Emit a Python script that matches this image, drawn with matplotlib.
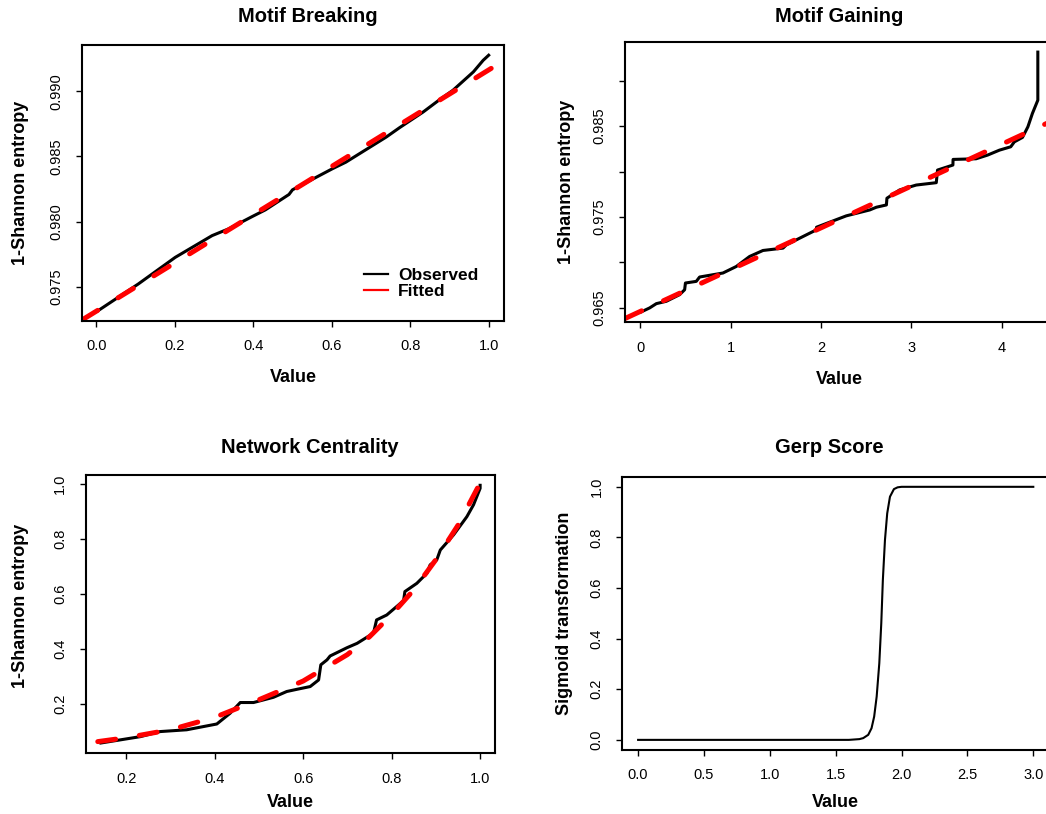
import numpy as np
import matplotlib
matplotlib.use("Agg")
import matplotlib.pyplot as plt

plt.rcParams['font.family'] = ['Liberation Sans', 'DejaVu Sans']

# Motif Breaking: observed curve and fitted straight line
mb_x = [0.004, 0.107, 0.201, 0.295, 0.337, 0.397, 0.431, 0.491, 0.500, 0.602, 0.636,
        0.739, 0.773, 0.833, 0.875, 0.909, 0.961, 0.986, 1.0]
mb_y = [0.97315, 0.97521, 0.97725, 0.97892, 0.97944, 0.98038, 0.98090, 0.98208, 0.98244,
        0.98406, 0.98456, 0.98649, 0.98721, 0.98841, 0.98936, 0.99008, 0.99149, 0.99238, 0.99277]
mb_fit = (0.97312, 0.01852)  # intercept, slope

# Motif Gaining
mg_x = [0.01, 0.104, 0.178, 0.289, 0.436, 0.491, 0.500, 0.62, 0.657, 0.915, 1.063, 1.21,
        1.358, 1.58, 1.617, 1.838, 1.949, 1.951, 2.28, 2.54, 2.613, 2.724, 2.73, 2.87,
        3.054, 3.276, 3.29, 3.46, 3.462, 3.716, 3.845, 3.975, 4.10, 4.14, 4.23, 4.29,
        4.34, 4.40, 4.40]
mg_y = [0.96456, 0.96500, 0.96547, 0.96573, 0.96646, 0.96700, 0.96774, 0.96792, 0.96840,
        0.96884, 0.96956, 0.97066, 0.97132, 0.97158, 0.97194, 0.97304, 0.97359, 0.97388,
        0.97513, 0.97578, 0.97608, 0.97633, 0.97707, 0.97798, 0.97852, 0.97878, 0.98017,
        0.98072, 0.98134, 0.98141, 0.98182, 0.98236, 0.98273, 0.98327, 0.98376, 0.98493,
        0.98640, 0.98786, 0.99315]
mg_fit = (0.96461, 0.0046)

# Network Centrality
nc_x = [0.143, 0.232, 0.277, 0.337, 0.405, 0.435, 0.458, 0.488, 0.533, 0.563, 0.586, 0.616,
        0.635, 0.640, 0.654, 0.661, 0.699, 0.722, 0.759, 0.766, 0.789, 0.827, 0.830, 0.857,
        0.880, 0.887, 0.902, 0.910, 0.940, 0.970, 0.985, 1.0, 1.0]
nc_y = [0.059, 0.082, 0.1005, 0.107, 0.128, 0.167, 0.206, 0.206, 0.225, 0.246, 0.254, 0.264,
        0.288, 0.343, 0.361, 0.375, 0.405, 0.421, 0.458, 0.506, 0.524, 0.576, 0.609, 0.639,
        0.676, 0.706, 0.724, 0.760, 0.815, 0.881, 0.924, 0.984, 0.995]
nc_fit_x = [0.136, 0.2, 0.3, 0.4, 0.5, 0.6, 0.7, 0.75, 0.8, 0.85, 0.9, 0.95, 1.0]
nc_fit_y = [0.064, 0.078, 0.107, 0.152, 0.216, 0.284, 0.38, 0.445, 0.525, 0.615, 0.725, 0.85, 1.003]

# Gerp Score sigmoid
gs_x = [0.0, 1.60, 1.68, 1.709, 1.747, 1.772, 1.792, 1.811, 1.831, 1.846, 1.858, 1.874,
        1.891, 1.912, 1.942, 1.97, 2.0, 3.0]
gs_y = [0.0, 0.0, 0.003, 0.007, 0.020, 0.046, 0.092, 0.171, 0.303, 0.461, 0.632, 0.79,
        0.895, 0.961, 0.991, 0.998, 1.0, 1.0]

W, H = 1046, 814


def add_ax(fig, l, r, t, b):
    return fig.add_axes([l / W, 1 - b / H, (r - l) / W, (b - t) / H])


def r_lims(v):
    lo, hi = min(v), max(v)
    d = (hi - lo) * 0.04
    return lo - d, hi + d


def style(ax, xticks, yticks, xfmt, yfmt, ylabel, xlab_y, ylab_x, ylab_y=0.5, hide=()):
    ax.set_xticks(xticks)
    ax.set_xticklabels([xfmt % v for v in xticks])
    ax.set_yticks(yticks)
    ax.set_yticklabels(['' if i in hide else yfmt % v for i, v in enumerate(yticks)],
                       rotation=90, va='center')
    ax.tick_params(length=4.3, width=1, pad=9, labelsize=10.5, direction='out')
    for s in ax.spines.values():
        s.set_linewidth(1.5)
    ax.set_xlabel('Value', fontsize=13, fontweight='bold', va='center')
    ax.xaxis.set_label_coords(0.5, xlab_y)
    ax.set_ylabel(ylabel, fontsize=13, fontweight='bold', va='center')
    ax.yaxis.set_label_coords(ylab_x, ylab_y)


fig = plt.figure(figsize=(W / 100, H / 100), dpi=100)

red_kw = dict(color='#ff0000', lw=3.6, dashes=(3.6, 4.8), dash_capstyle='round')

# panel 1
ax1 = add_ax(fig, 82.3, 504.3, 45, 321)
ax1.plot(mb_x, mb_y, color='black', lw=2.2, label='Observed')
ax1.axline((0, mb_fit[0]), slope=mb_fit[1], **red_kw)
ax1.set_xlim(r_lims(mb_x))
ax1.set_ylim(r_lims(mb_y))
style(ax1, [0, 0.2, 0.4, 0.6, 0.8, 1.0], [0.975, 0.980, 0.985, 0.990], '%.1f', '%.3f',
      '1-Shannon entropy', -0.2065, -0.1476)
h1, = ax1.plot([], [], color='black', lw=1.6)
h2, = ax1.plot([], [], color='#ff0000', lw=1.6)
ax1.legend([h1, h2], ['Observed', 'Fitted'], loc='center left', bbox_to_anchor=(0.647, 0.136),
           frameon=False, borderpad=0, handlelength=1.4, handletextpad=0.55,
           labelspacing=0.05, prop={'weight': 'bold', 'size': 12.5})

# panel 2
ax2 = add_ax(fig, 625.3, 1053.7, 41.7, 322.3)
ax2.plot(mg_x, mg_y, color='black', lw=2.2)
ax2.axline((0, mg_fit[0]), slope=mg_fit[1], **red_kw)
ax2.set_xlim(r_lims(mg_x))
ax2.set_ylim(r_lims(mg_y))
style(ax2, [0, 1, 2, 3, 4], [0.965, 0.970, 0.975, 0.980, 0.985, 0.990], '%d', '%.3f',
      '1-Shannon entropy', -0.2056, -0.1384, hide=(1, 3, 5))

# panel 3
ax3 = add_ax(fig, 85.7, 495.3, 475, 753.3)
ax3.plot(nc_x, nc_y, color='black', lw=2.2)
ax3.plot(nc_fit_x, nc_fit_y, **red_kw)
ax3.set_xlim(r_lims(nc_x))
ax3.set_ylim(r_lims(nc_y))
style(ax3, [0.2, 0.4, 0.6, 0.8, 1.0], [0.2, 0.4, 0.6, 0.8, 1.0], '%.1f', '%.1f',
      '1-Shannon entropy', -0.1775, -0.1604, 0.53)

# panel 4
ax4 = add_ax(fig, 622.3, 1049.1, 476.7, 750)
ax4.plot(gs_x, gs_y, color='black', lw=1.5)
ax4.set_xlim(r_lims(gs_x))
ax4.set_ylim(r_lims(gs_y))
style(ax4, [0, 0.5, 1.0, 1.5, 2.0, 2.5, 3.0], [0, 0.2, 0.4, 0.6, 0.8, 1.0], '%.1f', '%.1f',
      'Sigmoid transformation', -0.193, -0.135)

titles = [('Motif Breaking', 308, 17), ('Motif Gaining', 839.5, 17),
          ('Network Centrality', 310, 447.5), ('Gerp Score', 829.5, 447.5)]
for t, x, y in titles:
    fig.text(x / W, 1 - y / H, t, ha='center', va='center', fontsize=14.5, fontweight='bold')

fig.savefig('out.png', dpi=100)
